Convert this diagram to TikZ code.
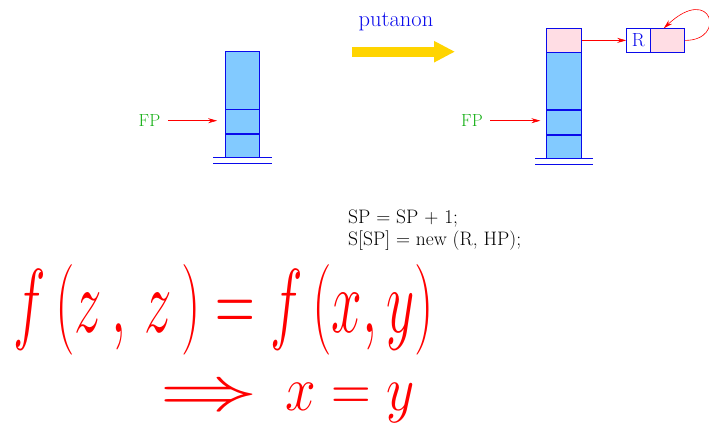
\RequirePackage{fix-cm}
\documentclass[tikz,border=0pt]{standalone}
\usepackage{graphicx}
\usetikzlibrary{arrows.meta}
\definecolor{cellblue}{RGB}{130,202,255}
\definecolor{cellpink}{RGB}{255,221,228}
\definecolor{fpgreen}{RGB}{20,175,20}
\definecolor{stackblue}{RGB}{10,10,235}
\definecolor{putgold}{RGB}{255,212,0}
\begin{document}
\begin{tikzpicture}[
  x=1pt, y=-1pt,
  cell/.style={draw=stackblue, fill=cellblue, line width=0.8pt, minimum width=34pt, inner sep=0pt, anchor=north},
  heapcell/.style={cell, fill=cellpink, minimum height=23.4pt},
  ground/.style={draw=stackblue, line width=0.8pt},
  fplabel/.style={text=fpgreen, font=\fontsize{17.5}{20}\selectfont},
  ptr/.style={draw=red, line width=0.6pt, -{Stealth[length=9pt, width=5pt]}},
  codetext/.style={font=\fontsize{19.5}{23}\selectfont, anchor=west, inner sep=0pt},
  scribble/.style={text=red, font=\fontsize{55}{55}\selectfont, inner sep=0pt}
]
  \useasboundingbox (0,0) rectangle (709,433);
  % stack before
  \node[cell, minimum height=57.7pt] (l1) at (242.5,51) {};
  \node[cell, minimum height=23.6pt] (l2) at (l1.south) {};
  \node[cell, minimum height=23pt] (l3) at (l2.south) {};
  \draw[ground] ([xshift=-12pt]l3.south west) -- ([xshift=12pt]l3.south east);
  \draw[ground] ([xshift=-12pt,yshift=-6pt]l3.south west) -- ([xshift=12pt,yshift=-6pt]l3.south east);
  \node[fplabel] (fpl) at (149.5,120.7) {FP};
  \draw[ptr] (fpl.east) ++(4,0) -- ([xshift=-8pt]l2.west |- fpl);
  % transition
  \node[text=stackblue, font=\fontsize{22.5}{26}\selectfont] (put) at (396,22) {putanon};
  \coordinate (ys) at (352,51.7);
  \coordinate (ye) at (455,51.7);
  \draw[putgold, line width=10pt, -{Triangle[length=21pt, width=20pt]}] (ys) -- (ye);
  % stack after
  \node[heapcell, minimum width=35pt] (r0) at (564.3,28.3) {};
  \node[cell, minimum width=35pt, minimum height=57pt] (r1) at (r0.south) {};
  \node[cell, minimum width=35pt, minimum height=23.6pt] (r2) at (r1.south) {};
  \node[cell, minimum width=35pt, minimum height=23pt] (r3) at (r2.south) {};
  \draw[ground] ([xshift=-11pt]r3.south west) -- ([xshift=11pt]r3.south east);
  \draw[ground] ([xshift=-11pt,yshift=-6pt]r3.south west) -- ([xshift=11pt,yshift=-6pt]r3.south east);
  \node[fplabel] (fpr) at (472,120.7) {FP};
  \draw[ptr] (fpr.east) ++(4,0) -- ([xshift=-6pt]r2.west |- fpr);
  % heap object
  \node[heapcell, fill=white, minimum width=23.3pt, text=stackblue, font=\fontsize{19}{19}\selectfont] (rtag) at (638.3,28.3) {R};
  \node[heapcell, anchor=north west] (rval) at (rtag.north east) {};
  \draw[ptr] (r0.east) -- (rtag.west);
  \draw[ptr] (rval.east) .. controls +(42,0) and +(48,-45) .. ([xshift=-4pt]rval.north);
  % code
  \node[codetext] (c1) at (348,219) {SP = SP + 1;};
  \node[codetext] (c2) at (348,241) {S[SP] = new (R, HP);};
  % handwritten note
  \node[scribble] (h1) at (224,310) {\scalebox{1}[1.65]{$f\,(z\,,\,z\,)=f\,(x,y)$}};
  \node[scribble] (h2) at (287,403) {\scalebox{1}[1.15]{$\scalebox{1.8}[1]{$\Rightarrow$}\enspace x=y$}};
\end{tikzpicture}
\end{document}
